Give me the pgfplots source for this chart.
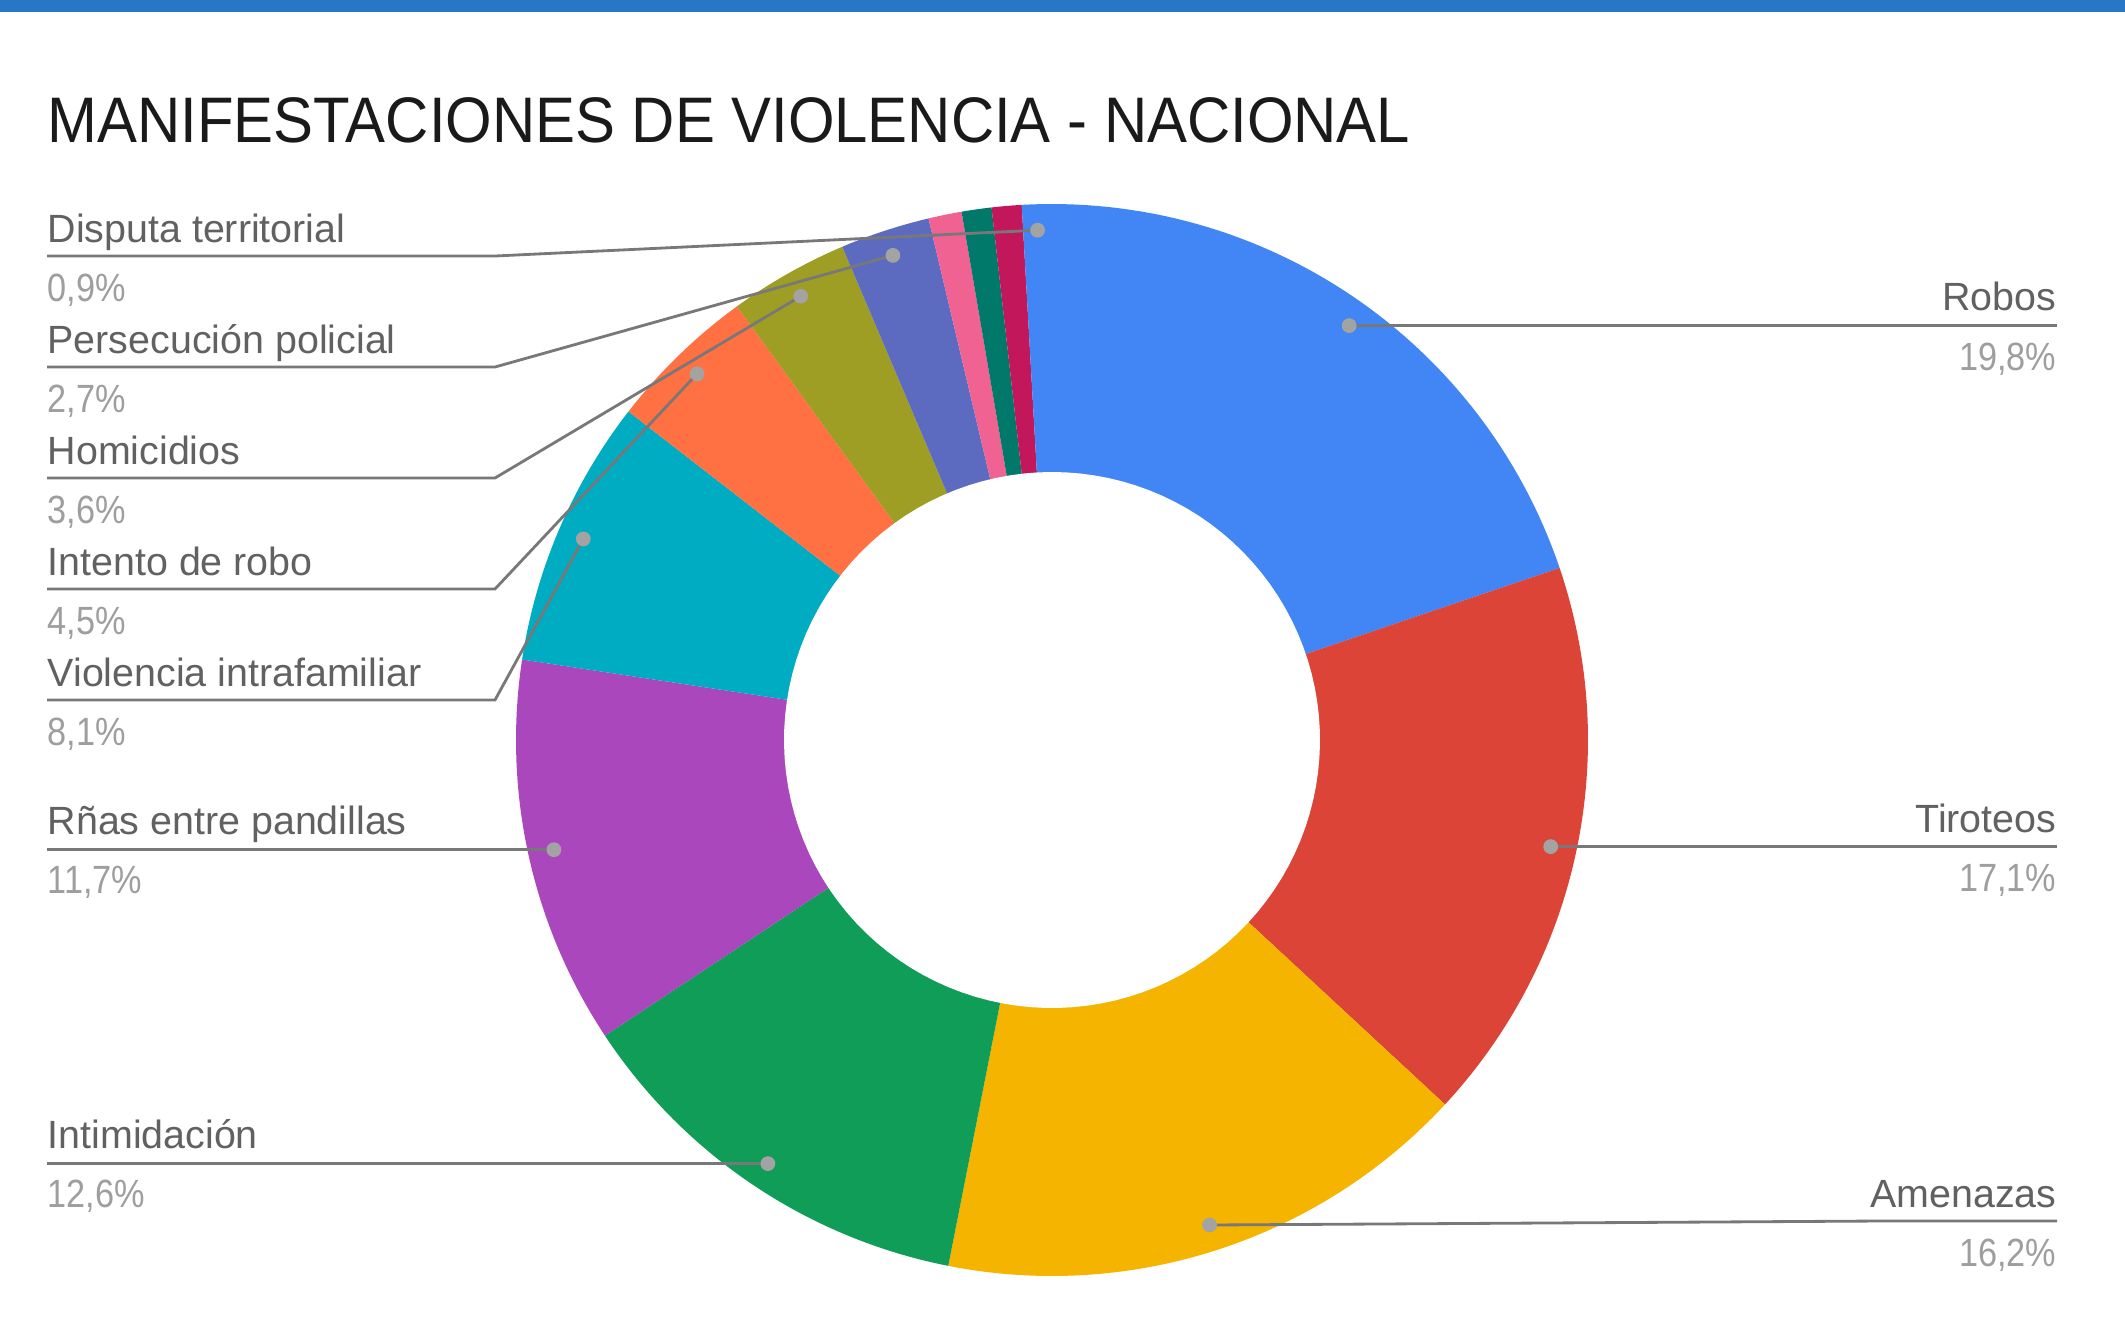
\documentclass[border=0pt]{standalone}
\usepackage{pgfplots}
\pgfplotsset{compat=1.18}
\usepackage{fontspec}
\setmainfont{Liberation Sans}
\newfontfamily\titlefont{Liberation Sans}[FakeStretch=0.93]
\newfontfamily\pctfont{Liberation Sans}[FakeStretch=0.87]
\definecolor{topblue}{HTML}{2778C4}
\definecolor{c1}{HTML}{4285F4}
\definecolor{c2}{HTML}{DB4437}
\definecolor{c3}{HTML}{F4B400}
\definecolor{c4}{HTML}{0F9D58}
\definecolor{c5}{HTML}{AB47BC}
\definecolor{c6}{HTML}{00ACC1}
\definecolor{c7}{HTML}{FF7043}
\definecolor{c8}{HTML}{9E9D24}
\definecolor{c9}{HTML}{5C6BC0}
\definecolor{c10}{HTML}{F06292}
\definecolor{c11}{HTML}{00796B}
\definecolor{c12}{HTML}{C2185B}
\definecolor{c13}{HTML}{4285F4}
\definecolor{namecol}{HTML}{616161}
\definecolor{pctcol}{HTML}{9E9E9E}
\definecolor{linecol}{HTML}{787878}
\definecolor{dotcol}{HTML}{A3A3A3}
\definecolor{titlecol}{HTML}{1A1A1A}
% slice: start percent, end percent, colour (donut centre 1052,740; R=536)
\newcommand\slice[3]{\addplot[fill=#3, draw=none, domain=#1*3.6:#2*3.6, samples=60]
  ({1052+536*sin(x)},{740-536*cos(x)}) -- (axis cs:1052,740) -- cycle;}
\newcommand\lname[3]{\node[anchor=base #1, inner sep=0, text=namecol, font=\fontsize{11.2}{13}\selectfont] at (axis cs:#2) {#3};}
\newcommand\lpct[3]{\node[anchor=base #1, inner sep=0, text=pctcol, font=\pctfont\fontsize{11.2}{13}\selectfont] at (axis cs:#2) {#3};}
\begin{document}
\begin{tikzpicture}
\begin{axis}[x=0.01cm, y=0.01cm, xmin=0, xmax=2125, ymin=0, ymax=1340,
  y dir=reverse, hide axis, clip=false]
\addplot[fill=white, draw=none] coordinates {(0,0)(2125,0)(2125,1340)(0,1340)};
\addplot[fill=topblue, draw=none] coordinates {(0,0)(2125,0)(2125,12)(0,12)};
% values (%): 19.8 17.1 16.2 12.6 11.7 8.1 4.5 3.6 2.7 1.0 0.9 0.9 0.9
\slice{0}{19.8}{c1}
\slice{19.8}{36.9}{c2}
\slice{36.9}{53.1}{c3}
\slice{53.1}{65.7}{c4}
\slice{65.7}{77.4}{c5}
\slice{77.4}{85.5}{c6}
\slice{85.5}{90.0}{c7}
\slice{90.0}{93.6}{c8}
\slice{93.6}{96.3}{c9}
\slice{96.3}{97.3}{c10}
\slice{97.3}{98.2}{c11}
\slice{98.2}{99.1}{c12}
\slice{99.1}{100}{c13}
\addplot[fill=white, draw=none, domain=0:360, samples=120] ({1052+268*sin(x)},{740-268*cos(x)});
% leader lines
\addplot[linecol, line width=0.8pt] coordinates {(47,256)(495,256)(1037.6,230.2)};
\addplot[linecol, line width=0.8pt] coordinates {(47,367)(495,367)(892.9,255.4)};
\addplot[linecol, line width=0.8pt] coordinates {(47,478)(495,478)(800.7,296.2)};
\addplot[linecol, line width=0.8pt] coordinates {(47,589)(495,589)(697.1,373.8)};
\addplot[linecol, line width=0.8pt] coordinates {(47,700)(495,700)(583.3,538.9)};
\addplot[linecol, line width=0.8pt] coordinates {(47,849.7)(553.9,849.7)};
\addplot[linecol, line width=0.8pt] coordinates {(47,1163.6)(767.9,1163.6)};
\addplot[linecol, line width=0.8pt] coordinates {(1349.2,325.6)(2057,325.6)};
\addplot[linecol, line width=0.8pt] coordinates {(1550.7,846.6)(2057,846.6)};
\addplot[linecol, line width=0.8pt] coordinates {(1209.6,1225)(1880,1221)(2057,1221)};
% dots
\addplot[only marks, mark=*, color=dotcol, mark size=1.9pt, mark options={fill=dotcol, draw=dotcol}] coordinates {
 (1349.2,325.6) (1550.7,846.6) (1209.6,1225.0) (767.9,1163.6) (553.9,849.7)
 (583.3,538.9) (697.1,373.8) (800.7,296.2) (892.9,255.4) (1037.6,230.2)};
% title
\node[anchor=base west, inner sep=0, text=titlecol, font=\titlefont\fontsize{18.3}{22}\selectfont] at (axis cs:47,142) {MANIFESTACIONES DE VIOLENCIA - NACIONAL};
% labels left
\lname{west}{47,242}{Disputa territorial}
\lpct{west}{47,301}{0,9\%}
\lname{west}{47,353}{Persecución policial}
\lpct{west}{47,412}{2,7\%}
\lname{west}{47,464}{Homicidios}
\lpct{west}{47,523}{3,6\%}
\lname{west}{47,575}{Intento de robo}
\lpct{west}{47,634}{4,5\%}
\lname{west}{47,686}{Violencia intrafamiliar}
\lpct{west}{47,745}{8,1\%}
\lname{west}{47,834}{Rñas entre pandillas}
\lpct{west}{47,893}{11,7\%}
\lname{west}{47,1148}{Intimidación}
\lpct{west}{47,1207}{12,6\%}
% labels right
\lname{east}{2057,310}{Robos}
\lpct{east}{2057,370}{19,8\%}
\lname{east}{2057,832}{Tiroteos}
\lpct{east}{2057,891}{17,1\%}
\lname{east}{2057,1207}{Amenazas}
\lpct{east}{2057,1266}{16,2\%}
\end{axis}
\end{tikzpicture}
\end{document}
